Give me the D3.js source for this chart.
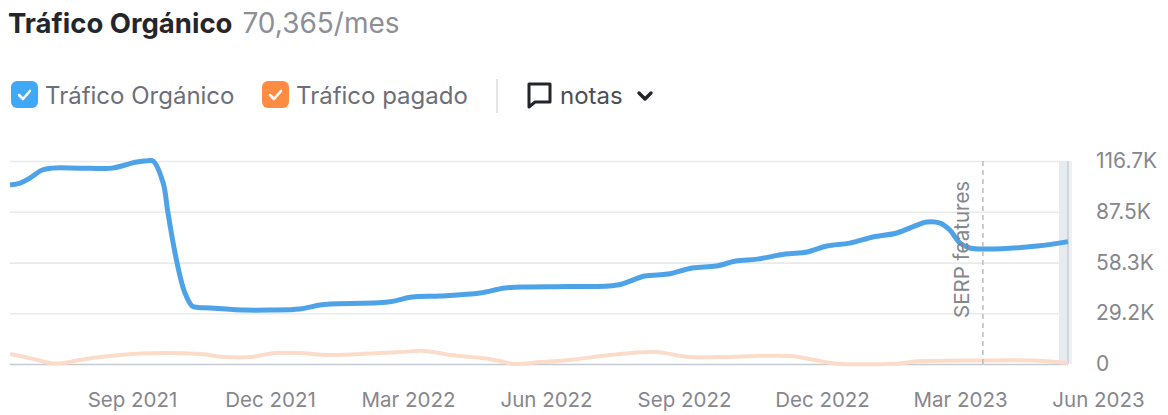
<!DOCTYPE html>
<html lang="es">
<head>
<meta charset="utf-8">
<title>Tráfico Orgánico</title>
<script src="https://cdn.jsdelivr.net/npm/d3@7/dist/d3.min.js"></script>
<style>
  html, body { margin: 0; padding: 0; background: #fff; }
  svg { display: block; font-family: Inter, Roboto, sans-serif; }
  .axis .domain { display: none; }
  .axis text { fill: #85878d; font-family: Inter, Roboto, sans-serif; }
  .axis-y text { font-size: 21px; }
  .axis-x text { font-size: 20.5px; }
</style>
</head>
<body>
<svg id="chart" width="1168" height="415"></svg>
<script>
// Months are counted from Jul 2021 (0) to Jun 2023 (23).
const organicMonths = [0, .22, .43, .7, .91, 1.52, 2.22, 2.5, 2.72, 3.0, 3.11, 3.33, 3.43, 3.63, 3.8, 3.96, 4.09, 4.35, 5.11, 5.65, 6.3, 6.74, 6.96, 8.22, 8.74, 9.35, 10.22, 10.76, 11.3, 12.17, 13.2, 13.8, 14.3, 14.83, 15.35, 15.78, 16.24, 16.85, 17.33, 17.76, 18.26, 18.76, 19.28, 19.61, 19.93, 20.22, 20.43, 20.65, 20.87, 21.2, 22.33, 23];
const organicValues = [102.9, 104, 106.9, 111.5, 112.6, 112.6, 112.6, 114.4, 116, 116.9, 116.7, 104, 87.5, 58.3, 41, 33.3, 32.5, 32.2, 31, 31, 31.6, 33.9, 34.5, 35.6, 38.5, 39.1, 40.8, 43.7, 44.3, 44.5, 45.4, 50.6, 51.7, 55.2, 56.3, 59.2, 60.3, 63.2, 64.4, 67.8, 69.5, 73, 75.3, 78.7, 81.6, 81, 77, 69.5, 66.7, 66.1, 67.8, 70.365];

const paidMonths = [0, .43, .87, 1.09, 1.52, 1.96, 2.83, 4.13, 4.67, 5.22, 5.76, 6.3, 6.96, 8.48, 9.02, 9.57, 10.43, 10.98, 11.52, 12.17, 13.04, 14.02, 14.78, 15.43, 16.96, 17.5, 17.93, 19.35, 19.67, 21.09, 22.2, 23];
const paidValues = [5.7, 3.4, .6, .3, 2.3, 4, 6, 5.7, 4, 4, 6.3, 6.3, 5.2, 6.9, 7.5, 5.2, 2.9, 0, 1.1, 2.3, 5.2, 6.9, 4, 4, 4.6, 2.3, .3, .3, 1.4, 2, 2, .6];

const yTicks = [0, 29.2, 58.3, 87.5, 116.7];
const xTickMonths = [2, 5, 8, 11, 14, 17, 20, 23];
const xTickLabels = ["Sep 2021", "Dec 2021", "Mar 2022", "Jun 2022", "Sep 2022", "Dec 2022", "Mar 2023", "Jun 2023"];

const serpMonth = 21.15;
const serpLabel = "SERP features";
const titleMain = "Tráfico Orgánico";
const titleValue = "70,365/mes";
const legendItems = ["Tráfico Orgánico", "Tráfico pagado"];
const legendColors = ["#3fa9f5", "#ff8c42"];

const svg = d3.select("#chart");
const x = d3.scaleLinear().domain([0, 23]).range([10, 1068]);
const y = d3.scaleLinear().domain([0, 116.7]).range([364, 161]);

// Header line
const title = svg.append("text").attr("x", 8).attr("y", 33);
title.append("tspan").attr("font-size", 27.5).attr("font-weight", 700).attr("fill", "#24262c").text(titleMain);
title.append("tspan").attr("dx", 10).attr("font-size", 28).attr("fill", "#8c8f95").text(titleValue);

// Legend checkboxes
const legendX = [11, 262];
const legend = svg.append("g").selectAll("g").data(legendItems).join("g")
  .attr("transform", (d, i) => `translate(${legendX[i]},81)`);
legend.append("rect").attr("width", 27).attr("height", 27).attr("rx", 6)
  .attr("fill", (d, i) => legendColors[i]);
legend.append("path").attr("d", "M8 14 L12 18 L19 10").attr("fill", "none")
  .attr("stroke", "#fff").attr("stroke-width", 2.6).attr("stroke-linecap", "round").attr("stroke-linejoin", "round");
legend.append("text").attr("x", 34).attr("y", 23).attr("font-size", 24).attr("fill", "#6c6f78").text(d => d);

// Notes control
svg.append("line").attr("x1", 497).attr("x2", 497).attr("y1", 79).attr("y2", 113).attr("stroke", "#dcdde0").attr("stroke-width", 1.5);
svg.append("path").attr("d", "M529 84 H550 V102 H535 L529 107 Z").attr("fill", "none")
  .attr("stroke", "#23252b").attr("stroke-width", 3).attr("stroke-linejoin", "round");
svg.append("text").attr("x", 560).attr("y", 104).attr("font-size", 24).attr("fill", "#4b4e55").text("notas");
svg.append("path").attr("d", "M639 93 L645 99 L651 93").attr("fill", "none")
  .attr("stroke", "#23252b").attr("stroke-width", 3.4).attr("stroke-linecap", "round").attr("stroke-linejoin", "round");

// Horizontal grid and value labels
const yAxis = svg.append("g").attr("class", "axis axis-y").attr("transform", "translate(1068,0)")
  .call(d3.axisRight(y).tickValues(yTicks).tickSize(0).tickPadding(28)
    .tickFormat(d => d === 0 ? "0" : d + "K"));
yAxis.selectAll(".tick line").attr("x1", -1058).attr("x2", 0).attr("stroke", "#e9eaec").attr("stroke-width", 1.6);
yAxis.selectAll(".tick").filter(d => d === 0).select("line").attr("stroke", "#c6cbd3");

// Incomplete-data band at the right edge
svg.append("rect").attr("x", 1059).attr("y", 161).attr("width", 9).attr("height", 203).attr("fill", "#e6ebf0");
svg.append("rect").attr("x", 1068).attr("y", 161).attr("width", 4).attr("height", 203).attr("fill", "#edf0f4");
svg.append("line").attr("x1", 1068).attr("x2", 1068).attr("y1", 161).attr("y2", 364).attr("stroke", "#c9ced6").attr("stroke-width", 1.5);

// Date labels sit to the right of the month they name
const xAxis = svg.append("g").attr("class", "axis axis-x").attr("transform", "translate(0,364)")
  .call(d3.axisBottom(x).tickValues(xTickMonths).tickSize(0).tickPadding(28)
    .tickFormat((d, i) => xTickLabels[i]));
xAxis.selectAll("text").attr("dx", 30);

// Series
const line = (months, values) => d3.line()
  .x((d, i) => x(months[i])).y(d => y(d)).curve(d3.curveCatmullRom.alpha(0.5))(values);
svg.append("path").attr("d", line(paidMonths, paidValues)).attr("fill", "none")
  .attr("stroke", "#fbdccb").attr("stroke-width", 4).attr("stroke-linejoin", "round");
svg.append("path").attr("d", line(organicMonths, organicValues)).attr("fill", "none")
  .attr("stroke", "#4ea3e8").attr("stroke-width", 5).attr("stroke-linejoin", "round");

// SERP features marker
svg.append("line").attr("x1", x(serpMonth)).attr("x2", x(serpMonth)).attr("y1", 161).attr("y2", 364)
  .attr("stroke", "#b9babd").attr("stroke-width", 1.5).attr("stroke-dasharray", "5 4");
svg.append("text").attr("transform", "translate(969,318) rotate(-90)")
  .attr("font-size", 20.5).attr("fill", "#85878d").text(serpLabel);
</script>
</body>
</html>
